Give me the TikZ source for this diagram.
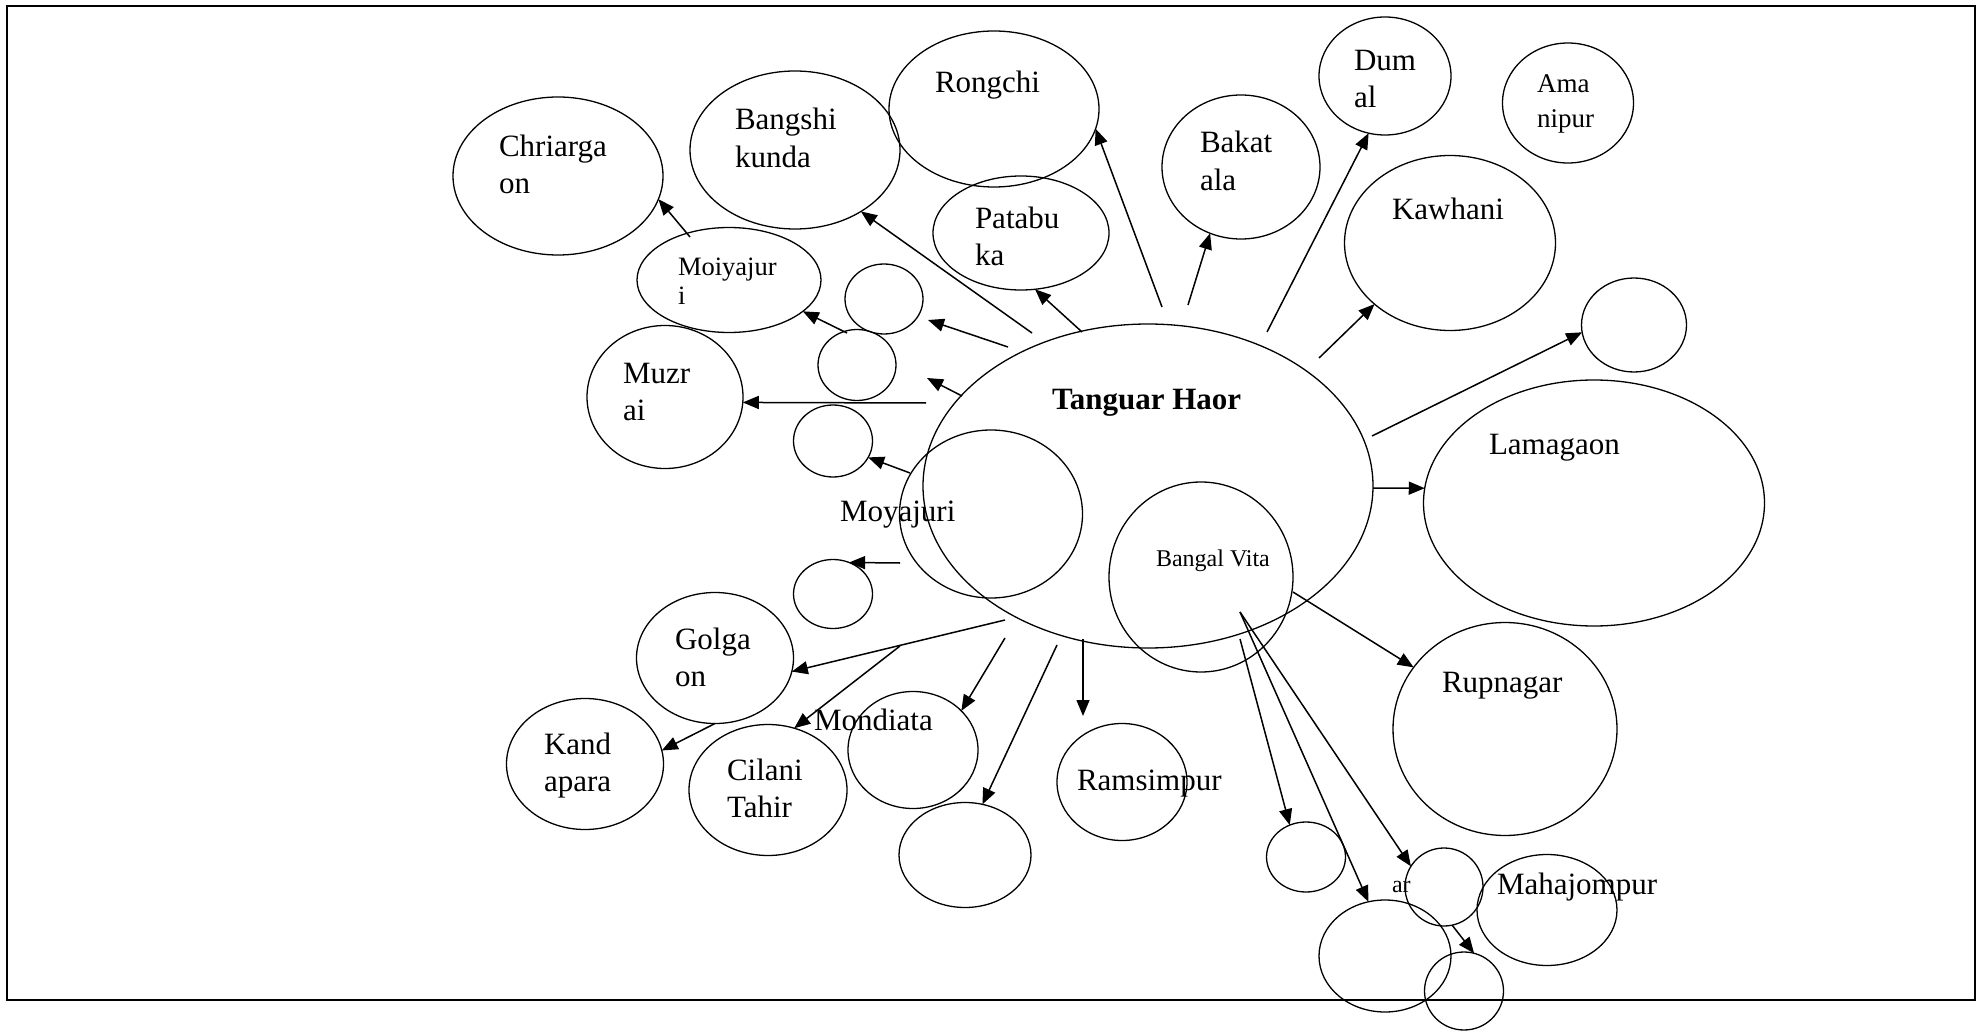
\documentclass[tikz,border=0pt]{standalone}
\usepackage{fontspec}
\setmainfont{Liberation Serif}
\usetikzlibrary{shapes.geometric,arrows.meta}
\begin{document}
\begin{tikzpicture}[x=1pt,y=-1pt,
  blob/.style={draw, ellipse, inner sep=0pt, outer sep=0pt, line width=1.3pt},
  lbl/.style={anchor=base west, inner sep=0pt, outer sep=0pt, font=\fontsize{31}{37}\selectfont},
  lblmid/.style={lbl, font=\fontsize{27}{32}\selectfont},
  lblsmall/.style={lbl, font=\fontsize{24}{28}\selectfont},
  link/.style={line width=1.5pt, -{Triangle[length=16pt,width=13pt]}},
]
\useasboundingbox (0,0) rectangle (1984,1032);
\draw[line width=2.2pt] (7,6) rectangle (1975,1000);

% ---------------- ellipses ----------------
\node[blob, minimum width=450pt, minimum height=324pt] (tanguar)   at (1148,486) {};
\node[blob, minimum width=210pt, minimum height=158pt] (chriarga)  at (558,176) {};
\node[blob, minimum width=210pt, minimum height=158pt] (bangshi)   at (795,150) {};
\node[blob, minimum width=210pt, minimum height=156pt] (rongchi)   at (994,109) {};
\node[blob, minimum width=176pt, minimum height=114pt] (patabuka)  at (1021,233) {};
\node[blob, minimum width=158pt, minimum height=144pt] (bakatala)  at (1241,167) {};
\node[blob, minimum width=132pt, minimum height=118pt] (dumal)     at (1385,76) {};
\node[blob, minimum width=131pt, minimum height=120pt] (amanipur)  at (1568,103) {};
\node[blob, minimum width=211pt, minimum height=175pt] (kawhani)   at (1450,243) {};
\node[blob, minimum width=105pt, minimum height=94pt]  (cr1)       at (1634,325) {};
\node[blob, minimum width=341pt, minimum height=246pt] (lamagaon)  at (1594,503) {};
\node[blob, minimum width=183pt, minimum height=168pt] (moyajuri)  at (991,514) {};
\node[blob, minimum width=184pt, minimum height=190pt] (bangalvita) at (1201,577) {};
\node[blob, minimum width=184pt, minimum height=105pt] (moiyajuri) at (729,280) {};
\node[blob, minimum width=156pt, minimum height=143pt] (muzrai)    at (665,397) {};
\node[blob, minimum width=78pt,  minimum height=70pt]  (c1)        at (884,299) {};
\node[blob, minimum width=78pt,  minimum height=71pt]  (c2)        at (857,365) {};
\node[blob, minimum width=79pt,  minimum height=72pt]  (c3)        at (833,441) {};
\node[blob, minimum width=79pt,  minimum height=69pt]  (c4)        at (833,594) {};
\node[blob, minimum width=157pt, minimum height=131pt] (golgaon)   at (715,658) {};
\node[blob, minimum width=157pt, minimum height=131pt] (kandapara) at (585,764) {};
\node[blob, minimum width=158pt, minimum height=131pt] (cilani)    at (768,790) {};
\node[blob, minimum width=130pt, minimum height=117pt] (mondiata)  at (913,750) {};
\node[blob, minimum width=132pt, minimum height=105pt] (c5)        at (965,855) {};
\node[blob, minimum width=130pt, minimum height=117pt] (ramsimpur) at (1122,782) {};
\node[blob, minimum width=224pt, minimum height=213pt] (rupnagar)  at (1505,729) {};
\node[blob, minimum width=79pt,  minimum height=70pt]  (c6)        at (1306,857) {};
\node[blob, minimum width=132pt, minimum height=112pt] (c7)        at (1385,956) {};
\node[blob, minimum width=78pt,  minimum height=78pt]  (c8)        at (1444,887) {};
\node[blob, minimum width=79pt,  minimum height=78pt]  (c9)        at (1464,991) {};
\node[blob, minimum width=140pt, minimum height=111pt] (mahajompur) at (1547,910) {};

% ---------------- labels ----------------
\node[lbl, font=\fontsize{31}{37}\selectfont\bfseries] (t-tanguar) at (1052,409) {Tanguar Haor};
\node[lbl] (t-chriarga1) at (499,157) {Chriarga};
\node[lbl] (t-chriarga2) at (499,194) {on};
\node[lbl] (t-bangshi1) at (735,130) {Bangshi};
\node[lbl] (t-bangshi2) at (735,168) {kunda};
\node[lbl] (t-rongchi) at (935,93) {Rongchi};
\node[lbl] (t-patabuka1) at (975,229) {Patabu};
\node[lbl] (t-patabuka2) at (975,266) {ka};
\node[lbl] (t-bakatala1) at (1200,153) {Bakat};
\node[lbl] (t-bakatala2) at (1200,191) {ala};
\node[lbl] (t-dumal1) at (1354,71) {Dum};
\node[lbl] (t-dumal2) at (1354,108) {al};
\node[lblmid] (t-amanipur1) at (1537,93) {Ama};
\node[lblmid] (t-amanipur2) at (1537,128) {nipur};
\node[lbl] (t-kawhani) at (1392,220) {Kawhani};
\node[lbl] (t-lamagaon) at (1489,454) {Lamagaon};
\node[lblmid, font=\fontsize{26.5}{29}\selectfont] (t-moiyajuri1) at (678,276) {Moiyajur};
\node[lblmid, font=\fontsize{26.5}{29}\selectfont] (t-moiyajuri2) at (678,305) {i};
\node[lbl] (t-muzrai1) at (623,383) {Muzr};
\node[lbl] (t-muzrai2) at (623,420) {ai};
\node[lbl] (t-moyajuri) at (840,521) {Moyajuri};
\node[lblsmall] (t-bangalvita) at (1156,566) {Bangal Vita};
\node[lbl] (t-golgaon1) at (675,649) {Golga};
\node[lbl] (t-golgaon2) at (675,686) {on};
\node[lbl] (t-kandapara1) at (544,754) {Kand};
\node[lbl] (t-kandapara2) at (544,791) {apara};
\node[lbl] (t-cilani1) at (727,780) {Cilani};
\node[lbl] (t-cilani2) at (727,817) {Tahir};
\node[lbl] (t-mondiata) at (814,730) {Mondiata};
\node[lbl] (t-ramsimpur) at (1077,790) {Ramsimpur};
\node[lbl] (t-rupnagar) at (1442,692) {Rupnagar};
\node[lbl] (t-mahajompur) at (1497,894) {Mahajompur};
\node[lblsmall] (t-ar) at (1392,892) {ar};

% ---------------- connector ends ----------------
\coordinate (o-chriarga) at (690,237);
\coordinate (o-moiyajuri) at (847,333);
\coordinate (o-c1) at (1008,347);
\coordinate (e-c1) at (928,320);
\coordinate (o-c2) at (962,396);
\coordinate (e-c2) at (927,378);
\coordinate (o-c3) at (910,473);
\coordinate (o-bangshi) at (1032,333);
\coordinate (o-patabuka) at (1082,332);
\coordinate (o-rongchi) at (1162,307);
\coordinate (o-bakatala) at (1188,305);
\coordinate (o-dumal) at (1267,332);
\coordinate (o-kawhani) at (1319,358);
\coordinate (o-cr1) at (1372,436);
\coordinate (o-lamagaon) at (1373,488);
\coordinate (o-rupnagar) at (1293,592);
\coordinate (o-c6) at (1240,639);
\coordinate (o-fan) at (1240,612);
\coordinate (o-muzrai) at (926,403);
\coordinate (o-c4) at (900,563);
\coordinate (o-golgaon) at (1005,620);
\coordinate (o-cilani) at (900,646);
\coordinate (o-mondiata) at (1005,638);
\coordinate (o-c5) at (1057,645);
\coordinate (o-ramsimpur) at (1083,639);
\coordinate (e-ramsimpur) at (1083,716);

% ---------------- connectors ----------------
\draw[link] (o-chriarga) -- (chriarga.-13);
\draw[link] (o-moiyajuri) -- (moiyajuri.-23);
\draw[link] (o-c1) -- (e-c1);
\draw[link] (o-c2) -- (e-c2);
\draw[link] (o-c3) -- (c3.-25);
\draw[link] (o-bangshi) -- (bangshi.-43);
\draw[link] (o-patabuka) -- (patabuka.-76);
\draw[link] (o-rongchi) -- (rongchi.-11);
\draw[link] (o-bakatala) -- (bakatala.245);
\draw[link] (o-dumal) -- (dumal.254);
\draw[link] (o-kawhani) -- (kawhani.219);
\draw[link] (o-cr1) -- (cr1.188);
\draw[link] (o-lamagaon) -- (lamagaon.175);
\draw[link] (o-rupnagar) -- (rupnagar.146);
\draw[link] (o-c6) -- (c6.117);
\draw[link] (o-fan) -- (c7.107);
\draw[link] (o-fan) -- (c8.148);
\draw[link] (c8.-78) -- (c9.75);
\draw[link] (o-muzrai) -- (muzrai.-4);
\draw[link] (o-c4) -- (c4.63);
\draw[link] (o-golgaon) -- (golgaon.-10);
\draw[link] (o-cilani) -- (cilani.67);
\draw[link] (golgaon.south) -- (kandapara.10);
\draw[link] (o-mondiata) -- (mondiata.39);
\draw[link] (o-c5) -- (c5.71);
\draw[link] (o-ramsimpur) -- (e-ramsimpur);
\end{tikzpicture}
\end{document}
